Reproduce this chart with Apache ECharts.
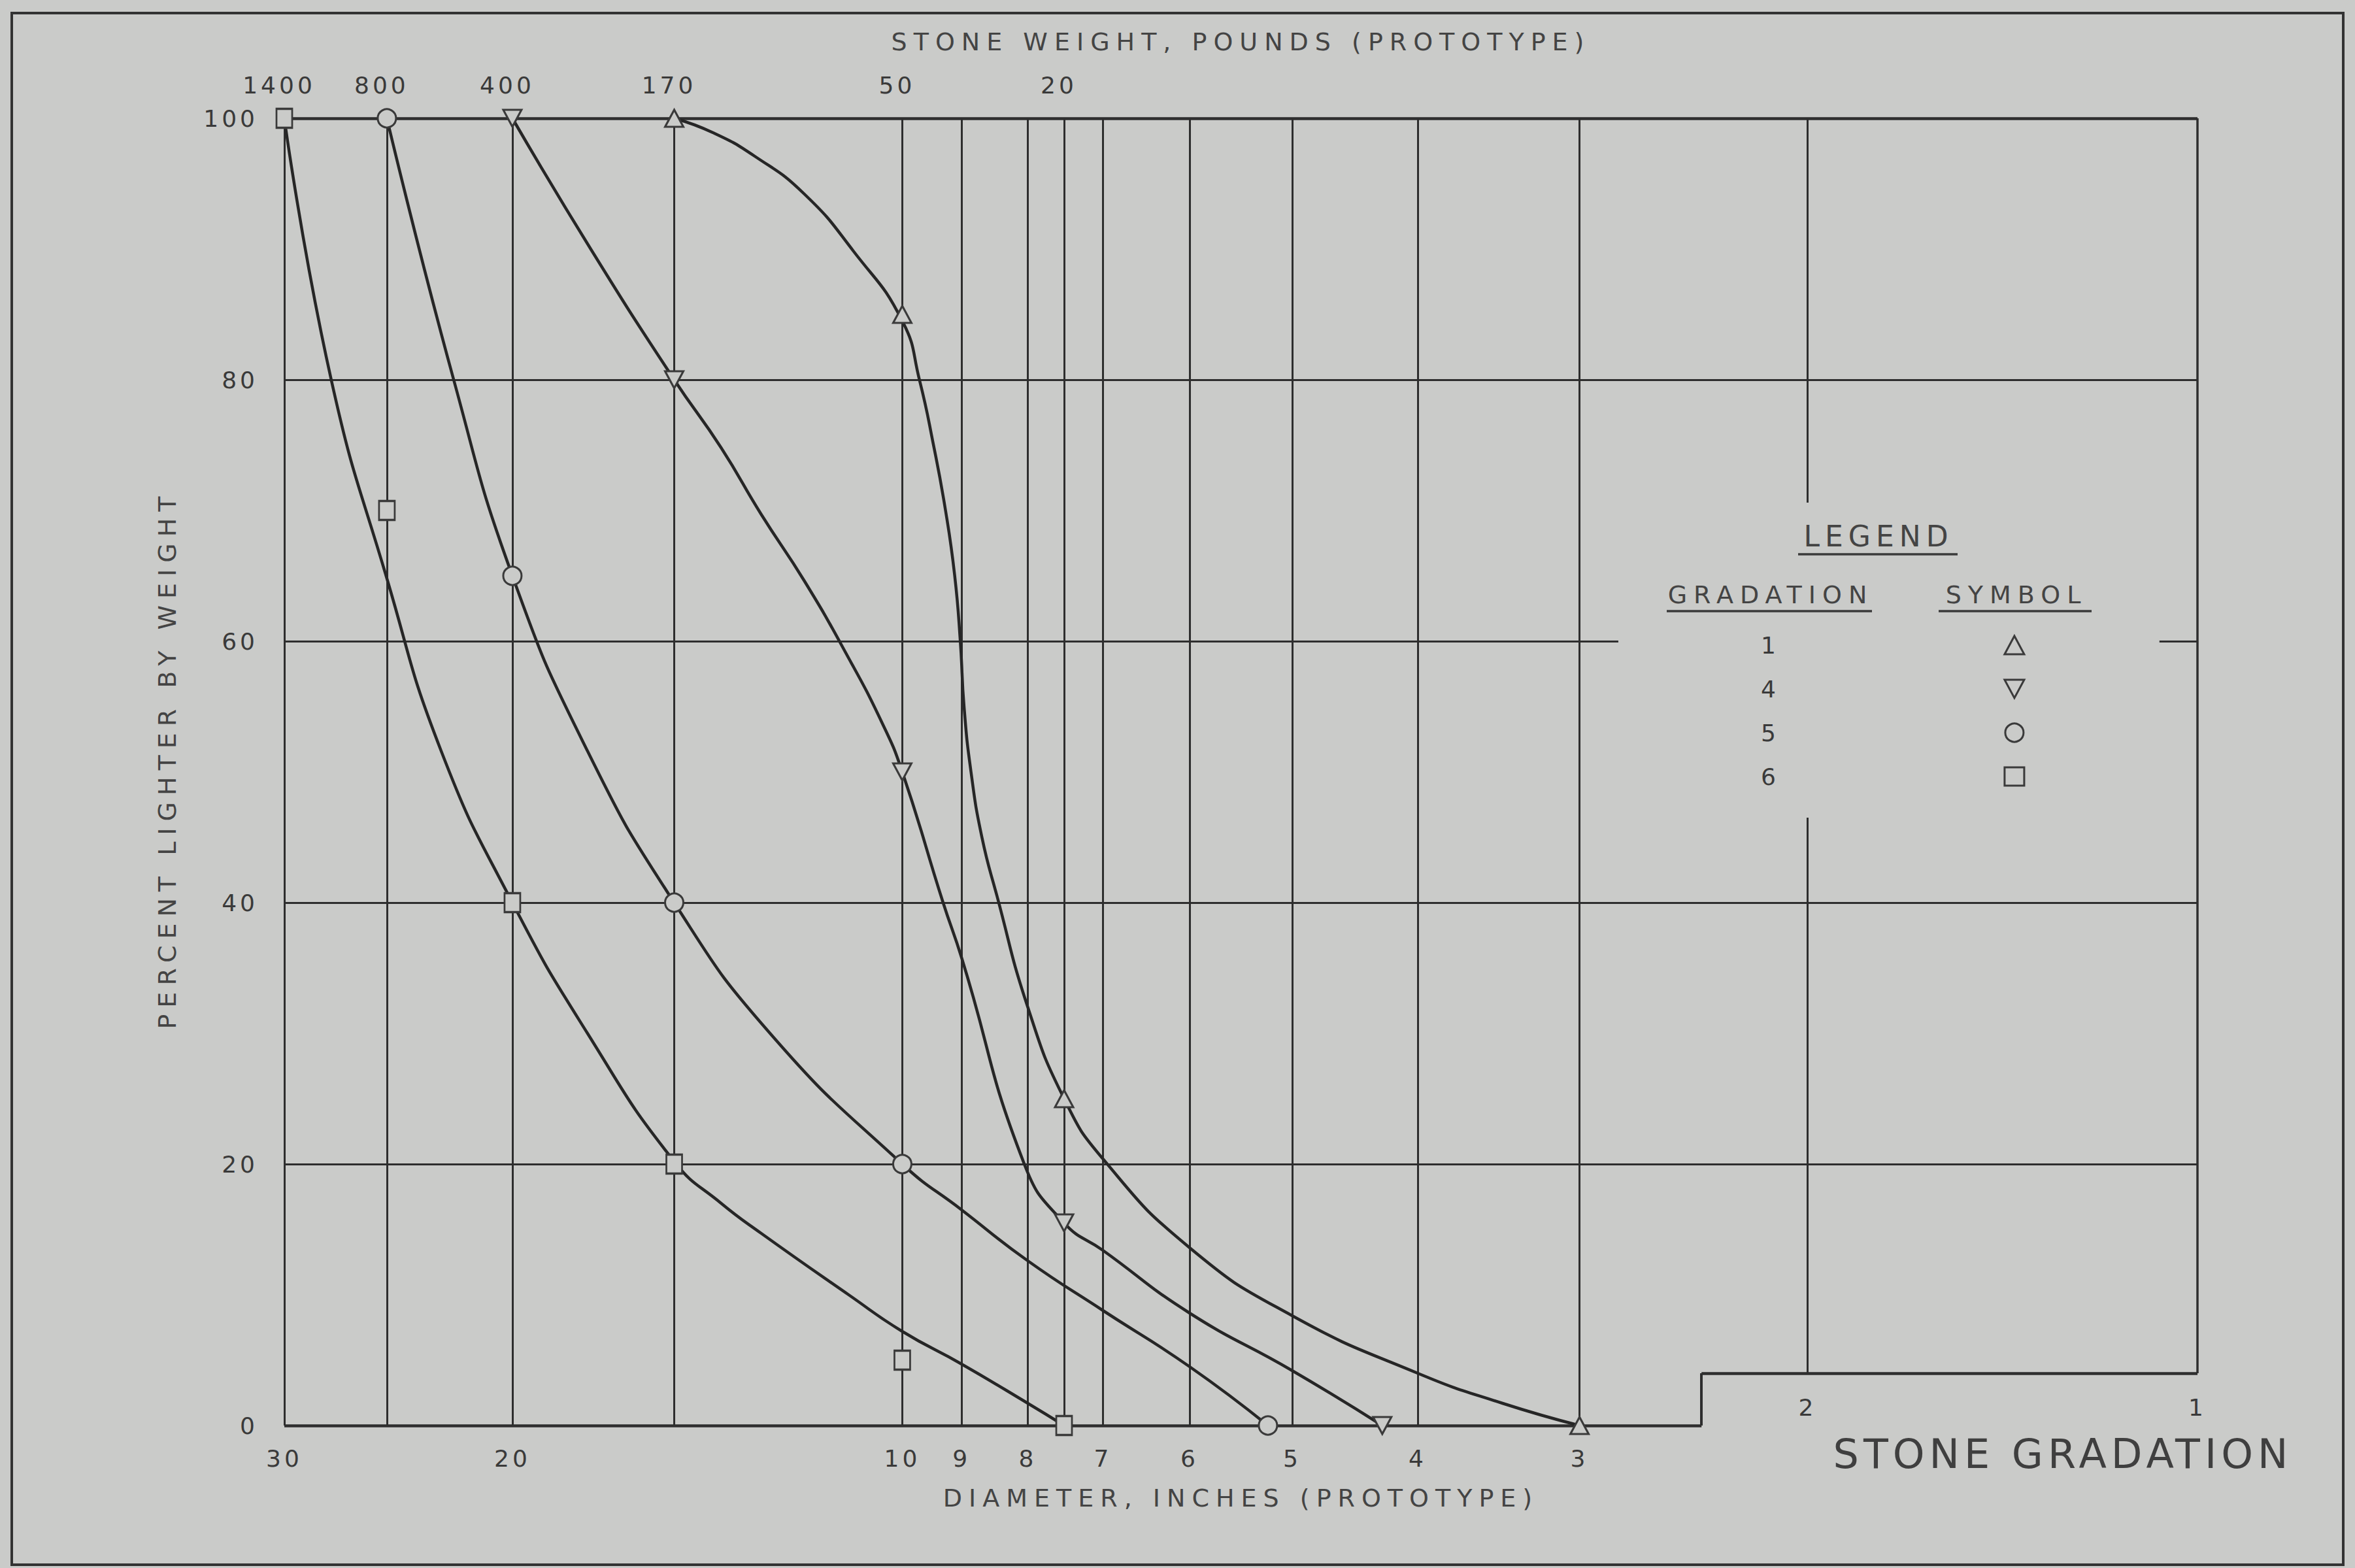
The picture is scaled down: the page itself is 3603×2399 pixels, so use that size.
<!DOCTYPE html>
<html>
<head>
<meta charset="utf-8">
<script src="https://cdn.jsdelivr.net/npm/echarts@6/dist/echarts.min.js"></script>
<style>
html, body { margin: 0; padding: 0; background: #cacbc9; }
#chart { width: 3603px; height: 2399px; }
#chart text[style*="36px"] { letter-spacing: 5px; }
#chart text[style*="38px"] { letter-spacing: 10px; }
#chart text[style*="44px"] { letter-spacing: 8px; }
#chart text[style*="62px"] { letter-spacing: 7px; }
</style>
</head>
<body>
<div id="chart"></div>
<script>
// ---------------- data ----------------
const diameterTicks = [30, 20, 10, 9, 8, 7, 6, 5, 4, 3];
const diameterTicksTitleBlock = [2, 1];
const weightTickDiameters = [30, 25, 20, 15, 10, 7.5];
const weightTickLabels = ['1400', '800', '400', '170', '50', '20'];
const diameterGrid = [30, 25, 20, 15, 10, 9, 8, 7.5, 7, 6, 5, 4, 3];
const percentGrid = [80, 40, 20];
const gradationNames = ['1', '4', '5', '6'];

// fitted curves (diameter in, percent lighter)
const g1Curve = [[15,100],[14,98.9],[13,97.1],[11.9,94.2],[10.9,89.8],[10,84.5],[9.7,80],[9.46,75],[9.26,70],[9.11,65],[9.02,60],[8.96,55],[8.85,50],[8.68,45],[8.45,40.5],[8,32],[7.5,25],[7,20.4],[6,13.6],[5,8.4],[4,4],[3.44,1.7],[3,0]];
const g4Curve = [[20,100],[17.4,90],[15,80],[13.8,74.8],[12.85,69.7],[11.9,64.6],[11.07,59.2],[10.36,53.7],[10,50],[9.3,40],[9,35.8],[8.05,20],[7.5,15.5],[7,13.4],[6,8.6],[5,4.2],[4.26,0]];
const g5Curve = [[25,100],[22.2,80],[20,65],[17.5,51.6],[15,40],[12.65,30],[10,20],[9,16.5],[8,12.6],[7,8.8],[6,4.5],[5.22,0]];
const g6Curve = [[30,100],[27.6,80],[25,64.8],[22.7,51.6],[20,40],[17.5,30],[15,20.2],[13.8,17],[12.85,14.7],[11,10],[10,7.2],[9,4.7],[8,1.7],[7.5,0]];

// plotted test points
const g1Marks = [[15,100],[10,85],[7.5,25],[3,0]];
const g4Marks = [[20,100],[15,80],[10,50],[7.5,15.5],[4.26,0]];
const g5Marks = [[25,100],[20,65],[15,40],[10,20],[5.22,0]];
const g6Marks = [[30,100],[25,70],[20,40],[15,20],[10,5],[7.5,0]];

// frame pieces (data coordinates)
const gap60 = [2.8, 1.07];        // 60% line interrupted by legend
const gap2 = [70.6, 46.5];        // 2-inch line interrupted by legend
const titleCorner = [2.415, 4];   // title block notch

// ---------------- style ----------------
const BG = '#cacbc9';
const LINE = '#2e2e2e';
const CURVE = '#262626';
const TEXT = '#444444';
const MARK = '#3a3a3a';
const FONT = 'DejaVu Sans';
const TRI_UP = 'triangle';
const TRI_DOWN = 'path://M0,0L28,0L14,26Z';

const chart = echarts.init(document.getElementById('chart'), null, { renderer: 'svg', width: 3603, height: 2399 });

function seg(a, b, w) {
  const ls = { color: LINE, width: w || 3, type: 'solid' };
  return [{ coord: a, lineStyle: ls }, { coord: b, lineStyle: ls }];
}
const segments = [];
diameterGrid.forEach(d => segments.push(seg([d, 0], [d, 100], 3)));
percentGrid.forEach(p => segments.push(seg([30, p], [1, p], 3)));
segments.push(seg([30, 60], [gap60[0], 60], 3));
segments.push(seg([gap60[1], 60], [1, 60], 3));
segments.push(seg([2, 100], [2, gap2[0]], 3));
segments.push(seg([2, gap2[1]], [2, titleCorner[1]], 3));
segments.push(seg([1, 100], [1, titleCorner[1]], 3.5));
segments.push(seg([30, 100], [1, 100], 4.5));
segments.push(seg([30, 0], [titleCorner[0], 0], 4.5));
segments.push(seg([titleCorner[0], 0], [titleCorner[0], titleCorner[1]], 4));
segments.push(seg([titleCorner[0], titleCorner[1]], [1, titleCorner[1]], 4.5));

const labelBase = { fontFamily: FONT, fontSize: 36, color: '#3a3a3a', opacity: 1, textBorderWidth: 0 };
const HIDDEN = { color: 'rgba(0,0,0,0)', borderWidth: 0 };

function curveSeries(name, data) {
  return {
    type: 'line', name: name, data: data, smooth: 0.5, symbol: 'none', showSymbol: false,
    lineStyle: { color: CURVE, width: 4.5 }, z: 3, silent: true
  };
}
function markSeries(name, data, symbol, size) {
  return {
    type: 'scatter', name: name, data: data, symbol: symbol, symbolSize: size,
    itemStyle: { color: BG, borderColor: MARK, borderWidth: 3, opacity: 1 }, z: 4, silent: true
  };
}

const option = {
  backgroundColor: BG,
  animation: false,
  grid: { left: 435, top: 181, right: 241, bottom: 218, outerBoundsMode: 'none', containLabel: false },
  xAxis: [
    {
      type: 'log', logBase: 10, min: 1, max: 30, inverse: true, position: 'bottom',
      name: 'DIAMETER, INCHES (PROTOTYPE)', nameLocation: 'middle', nameGap: 92, nameMoveOverlap: false,
      nameTextStyle: { fontFamily: FONT, fontSize: 38, color: TEXT },
      axisLine: { show: false }, axisTick: { show: false }, axisLabel: { show: false }, splitLine: { show: false }
    },
    {
      type: 'log', logBase: 10, min: 1, max: 30, inverse: true, position: 'top',
      name: 'STONE WEIGHT, POUNDS (PROTOTYPE)', nameLocation: 'middle', nameGap: 98, nameMoveOverlap: false,
      nameTextStyle: { fontFamily: FONT, fontSize: 38, color: TEXT },
      axisLine: { show: false }, axisTick: { show: false }, axisLabel: { show: false }, splitLine: { show: false }
    }
  ],
  yAxis: {
    type: 'value', min: 0, max: 100, interval: 20,
    name: 'PERCENT LIGHTER BY WEIGHT', nameLocation: 'middle', nameGap: 160, nameMoveOverlap: false,
    nameTextStyle: { fontFamily: FONT, fontSize: 38, color: TEXT, padding: [0, 0, 0, 38] },
    axisLine: { show: false }, axisTick: { show: false }, splitLine: { show: false },
    axisLabel: { fontFamily: FONT, fontSize: 36, color: '#3a3a3a', margin: 40 }
  },
  legend: {
    data: gradationNames, orient: 'vertical', left: 2699, top: 969, align: 'right',
    itemGap: 31, itemWidth: 30, itemHeight: 28, padding: 0, selectedMode: false,
    textStyle: { fontFamily: FONT, fontSize: 36, color: '#3a3a3a', padding: [0, 340, 0, 0] },
    itemStyle: { borderWidth: 3, borderColor: MARK, color: BG }
  },
  graphic: [
    { type: 'rect', shape: { x: 18, y: 20, width: 3567, height: 2374 }, style: { fill: 'none', stroke: '#333333', lineWidth: 4 }, silent: true, z: 0 },
    { type: 'text', x: 2874, y: 820, style: { text: 'LEGEND', fontFamily: FONT, fontSize: 44, fill: TEXT, align: 'center', verticalAlign: 'middle' }, silent: true },
    { type: 'line', shape: { x1: 2751, y1: 848, x2: 2995, y2: 848 }, style: { stroke: '#3a3a3a', lineWidth: 3.5 }, silent: true },
    { type: 'text', x: 2709, y: 910, style: { text: 'GRADATION', fontFamily: FONT, fontSize: 38, fill: TEXT, align: 'center', verticalAlign: 'middle' }, silent: true },
    { type: 'line', shape: { x1: 2550, y1: 935, x2: 2864, y2: 935 }, style: { stroke: '#3a3a3a', lineWidth: 3.5 }, silent: true },
    { type: 'text', x: 3085, y: 910, style: { text: 'SYMBOL', fontFamily: FONT, fontSize: 38, fill: TEXT, align: 'center', verticalAlign: 'middle' }, silent: true },
    { type: 'line', shape: { x1: 2966, y1: 935, x2: 3200, y2: 935 }, style: { stroke: '#3a3a3a', lineWidth: 3.5 }, silent: true },
    { type: 'text', x: 3156, y: 2224, style: { text: 'STONE GRADATION', fontFamily: FONT, fontSize: 62, fill: '#3f3f3f', align: 'center', verticalAlign: 'middle' }, silent: true }
  ],
  series: [
    {
      type: 'line', name: 'grid', data: [], z: 1, silent: true,
      markLine: { silent: true, z: 1, symbol: ['none', 'none'], label: { show: false }, emphasis: { disabled: true }, animation: false, data: segments }
    },
    curveSeries('Gradation 6 curve', g6Curve),
    curveSeries('Gradation 5 curve', g5Curve),
    curveSeries('Gradation 4 curve', g4Curve),
    curveSeries('Gradation 1 curve', g1Curve),
    markSeries('1', g1Marks, TRI_UP, [28, 26]),
    markSeries('4', g4Marks, TRI_DOWN, [28, 26]),
    markSeries('5', g5Marks, 'circle', 28),
    markSeries('6', g6Marks, 'rect', [24, 29]),
    {
      type: 'scatter', name: 'diameter labels', data: diameterTicks.map(d => [d, 0]),
      symbolSize: 2, itemStyle: HIDDEN, silent: true, z: 6,
      label: Object.assign({ show: true, position: 'bottom', distance: 31, formatter: p => String(p.value[0]) }, labelBase)
    },
    {
      type: 'scatter', name: 'diameter labels (title block)', data: diameterTicksTitleBlock.map(d => [d, titleCorner[1]]),
      symbolSize: 2, itemStyle: HIDDEN, silent: true, z: 6,
      label: Object.assign({ show: true, position: 'bottom', distance: 33, formatter: p => String(p.value[0]) }, labelBase)
    },
    {
      type: 'scatter', name: 'weight labels', data: weightTickDiameters.map(d => [d, 100]),
      symbolSize: 2, itemStyle: HIDDEN, silent: true, z: 6,
      label: Object.assign({ show: true, position: 'top', distance: 32, offset: [-8, 0], formatter: p => weightTickLabels[p.dataIndex] }, labelBase)
    }
  ]
};
chart.setOption(option);
</script>
</body>
</html>
